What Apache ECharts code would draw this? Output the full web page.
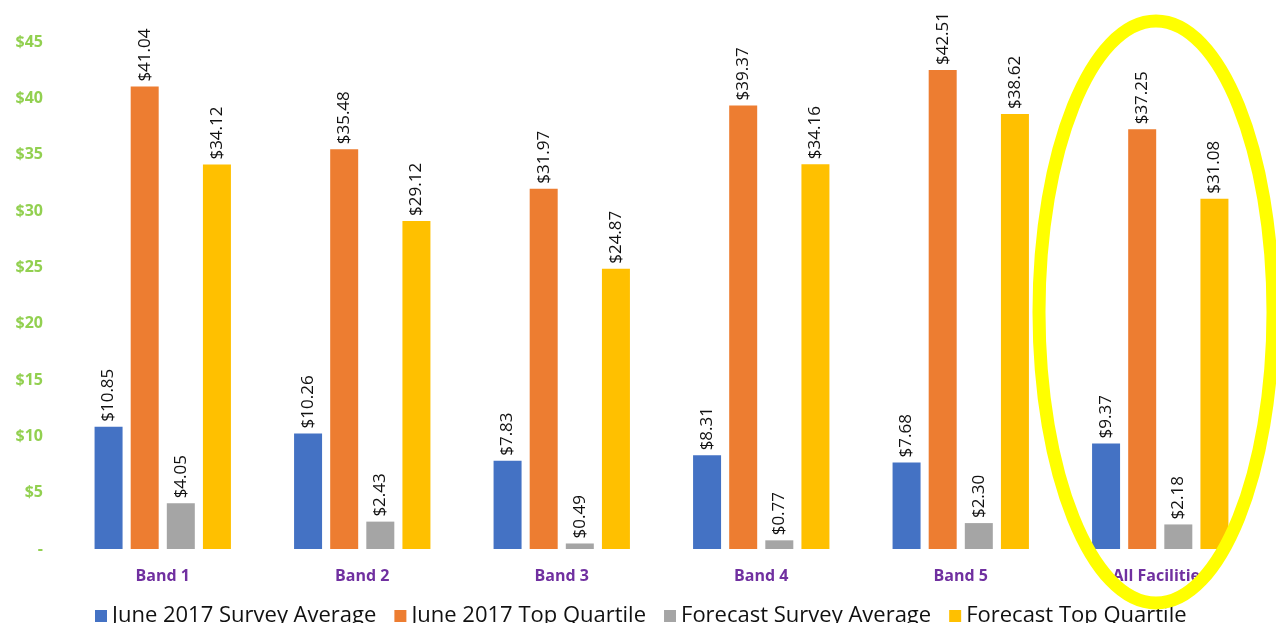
<!DOCTYPE html>
<html>
<head>
<meta charset="utf-8">
<script src="https://cdn.jsdelivr.net/npm/echarts@6/dist/echarts.min.js"></script>
<style>
html,body{margin:0;padding:0;background:#fff;}
#chart{width:1276px;height:623px;}
</style>
</head>
<body>
<div id="chart"></div>
<script>
const categories = ['Band 1', 'Band 2', 'Band 3', 'Band 4', 'Band 5', 'All Facilities'];
const surveyAvg = [10.85, 10.26, 7.83, 8.31, 7.68, 9.37];
const topQuartile = [41.04, 35.48, 31.97, 39.37, 42.51, 37.25];
const forecastAvg = [4.05, 2.43, 0.49, 0.77, 2.30, 2.18];
const forecastTop = [34.12, 29.12, 24.87, 34.16, 38.62, 31.08];
const seriesNames = ['June 2017 Survey Average', 'June 2017 Top Quartile', 'Forecast Survey Average', 'Forecast Top Quartile'];
const colors = ['#4472C4', '#ED7D31', '#A5A5A5', '#FFC000'];

const font = '"Open Sans", "Noto Sans", sans-serif';
const chart = echarts.init(document.getElementById('chart'));
function mk(name, data, color) {
  return {
    name, type: 'bar', data, barWidth: 28, barGap: '29%',
    itemStyle: { color },
    label: {
      show: true, position: 'top', rotate: 90, align: 'left', verticalAlign: 'middle',
      distance: 5, fontSize: 17, color: '#111', fontFamily: font,
      formatter: p => '$' + p.value.toFixed(2)
    }
  };
}
chart.setOption({
  animation: false,
  color: colors,
  grid: { left: 63, right: 16, top: 42, bottom: 74, containLabel: false },
  xAxis: {
    type: 'category', data: categories,
    axisLine: { show: false }, axisTick: { show: false },
    axisLabel: { color: '#7030A0', fontWeight: 'bold', fontSize: 16, margin: 19, fontFamily: font }
  },
  yAxis: {
    type: 'value', min: 0, max: 45, interval: 5,
    splitLine: { show: false }, axisLine: { show: false }, axisTick: { show: false },
    axisLabel: {
      color: '#92D050', fontWeight: 'bold', fontSize: 16, margin: 20, fontFamily: font,
      formatter: v => v === 0 ? '-' : '$' + v
    }
  },
  legend: {
    bottom: -9, left: 90, itemWidth: 12, itemHeight: 12, itemGap: 18,
    icon: 'rect',
    textStyle: { fontSize: 22, color: '#111', fontFamily: font },
    data: seriesNames
  },
  series: [
    mk(seriesNames[0], surveyAvg, colors[0]),
    mk(seriesNames[1], topQuartile, colors[1]),
    mk(seriesNames[2], forecastAvg, colors[2]),
    mk(seriesNames[3], forecastTop, colors[3])
  ],
  graphic: [{
    type: 'ellipse', z: 100,
    shape: { cx: 1156, cy: 312, rx: 117, ry: 291 },
    style: { fill: 'none', stroke: '#FFFF00', lineWidth: 13 }
  }]
});
</script>
</body>
</html>
